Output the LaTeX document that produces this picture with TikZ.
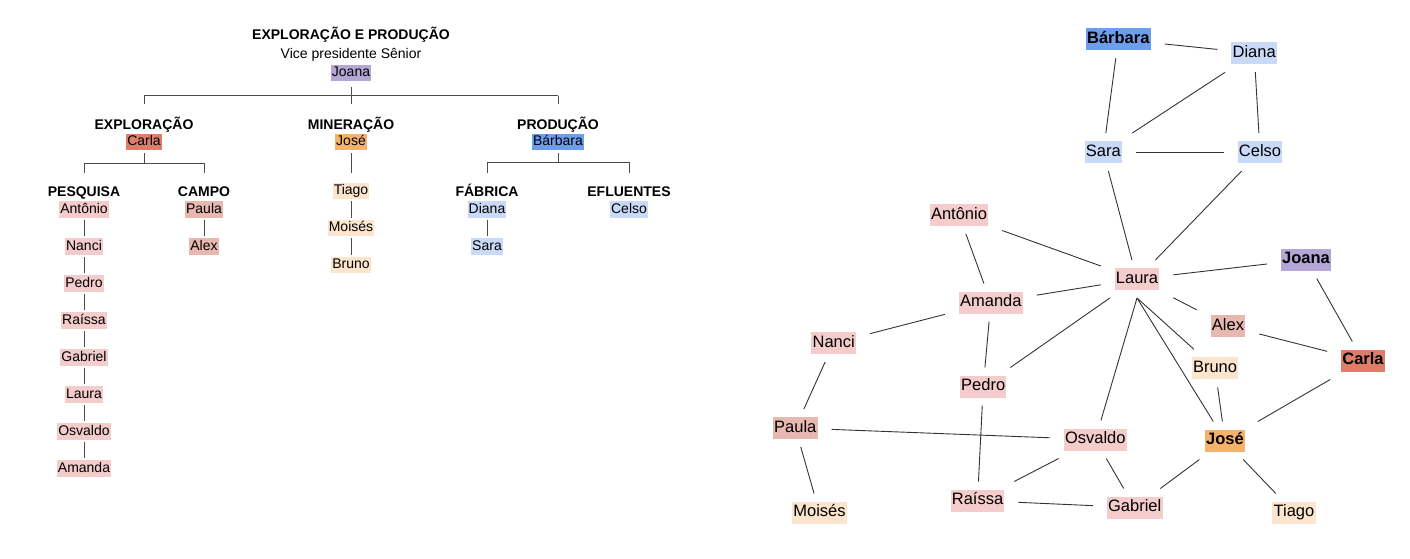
\documentclass[tikz,border=0pt]{standalone}
\usepackage{fontspec}
\setmainfont{Liberation Sans}
\definecolor{lilac}{HTML}{B4A7D6}
\definecolor{brick}{HTML}{DD7E6B}
\definecolor{apricot}{HTML}{F6B26B}
\definecolor{cornflower}{HTML}{6D9EEB}
\definecolor{skyish}{HTML}{C9DAF8}
\definecolor{blush}{HTML}{F4CCCC}
\definecolor{rosy}{HTML}{E6B8AF}
\definecolor{peach}{HTML}{FCE5CD}

\begin{document}
\begin{tikzpicture}[x=1pt, y=-1pt,
  person/.style={fill=#1, inner xsep=1pt, inner ysep=2pt, text height=10pt, text depth=2.5pt, outer sep=2pt, font=\fontsize{14pt}{16pt}\selectfont},
  person/.default=blush,
  dept/.style={inner xsep=0pt, inner ysep=2pt, text height=10pt, text depth=2.5pt, font=\fontsize{14pt}{16pt}\selectfont\bfseries},
  caption/.style={inner sep=0pt, font=\fontsize{14pt}{16pt}\selectfont},
  tree/.style={draw=black!70, line width=0.8pt},
  pal/.style={fill=#1, inner xsep=1.2pt, inner ysep=3.25pt, text height=12pt, text depth=3.5pt, outer xsep=14pt, outer ysep=8pt, font=\fontsize{16.5pt}{18pt}\selectfont},
  pal/.default=blush,
  boss/.style={pal=#1, font=\fontsize{16.5pt}{18pt}\selectfont\bfseries},
  link/.style={draw=black!80, line width=0.9pt}]
\useasboundingbox (0,0) rectangle (1410,558);

% organograma
\node[dept] (ep) at (351,36) {EXPLORAÇÃO E PRODUÇÃO};
\node[caption] (vp) at (351,55) {Vice presidente Sênior};
\node[person=lilac] (joana) at (351,73) {Joana};

\node[dept] (expl) at (144,125.5) {EXPLORAÇÃO};
\node[person=brick] (carla) at (144,142) {Carla};
\node[dept] (mine) at (351,125.5) {MINERAÇÃO};
\node[person=apricot] (jose) at (351,142) {José};
\node[dept] (prod) at (558,125.5) {PRODUÇÃO};
\node[person=cornflower] (barbara) at (558,142) {Bárbara};

\node[dept] (pesq) at (84,193) {PESQUISA};
\node[person] (antonio) at (84,209.5) {Antônio};
\node[person] (nanci) at (84,246.5) {Nanci};
\node[person] (pedro) at (84,283.5) {Pedro};
\node[person] (raissa) at (84,320.5) {Raíssa};
\node[person] (gabriel) at (84,357.5) {Gabriel};
\node[person] (laura) at (84,394.5) {Laura};
\node[person] (osvaldo) at (84,431.5) {Osvaldo};
\node[person] (amanda) at (84,468.5) {Amanda};

\node[dept] (campo) at (204,193) {CAMPO};
\node[person=rosy] (paula) at (204,209.5) {Paula};
\node[person=rosy] (alex) at (204,246.5) {Alex};

\node[person=peach] (tiago) at (351,191) {Tiago};
\node[person=peach] (moises) at (351,228) {Moisés};
\node[person=peach] (bruno) at (351,265) {Bruno};

\node[dept] (fabr) at (487,193) {FÁBRICA};
\node[person=skyish] (diana) at (487,209.5) {Diana};
\node[person=skyish] (sara) at (487,246.5) {Sara};
\node[dept] (eflu) at (629,193) {EFLUENTES};
\node[person=skyish] (celso) at (629,209.5) {Celso};

\coordinate (bus-l) at (144,95.7);
\coordinate (bus-r) at (558,95.7);
\coordinate (bus-pq) at (84,163);
\coordinate (bus-cp) at (204,163);
\coordinate (bus-fa) at (487,162);
\coordinate (bus-ef) at (629,162);

\draw[tree] (bus-l) -- (bus-r);
\draw[tree, shorten <=3.5pt, shorten >=13pt] (joana) -- (mine.north);
\draw[tree, shorten >=13pt] (bus-l) -- (expl.north);
\draw[tree, shorten >=13pt] (bus-r) -- (prod.north);

\draw[tree, shorten <=1pt] (carla) -- (carla |- bus-pq);
\draw[tree] (bus-pq) -- (bus-cp);
\draw[tree, shorten >=11.5pt] (bus-pq) -- (pesq.north);
\draw[tree, shorten >=11.5pt] (bus-cp) -- (campo.north);

\draw[tree, shorten <=1pt] (barbara) -- (barbara |- bus-fa);
\draw[tree] (bus-fa) -- (bus-ef);
\draw[tree, shorten >=11.5pt] (bus-fa) -- (fabr.north);
\draw[tree, shorten >=11.5pt] (bus-ef) -- (eflu.north);

\draw[tree, shorten <=1pt, shorten >=7.5pt] (jose) -- (tiago);
\draw[tree] (tiago) -- (moises) (moises) -- (bruno);
\draw[tree] (paula) -- (alex);
\draw[tree] (diana) -- (sara);
\draw[tree] (antonio) -- (nanci) (nanci) -- (pedro) (pedro) -- (raissa)
  (raissa) -- (gabriel) (gabriel) -- (laura) (laura) -- (osvaldo) (osvaldo) -- (amanda);

% rede
\node[boss=cornflower] (net-barbara) at (1118.3,39.2) {Bárbara};
\node[pal=skyish] (net-diana) at (1254.2,53.2) {Diana};
\node[pal=skyish] (net-sara) at (1103.3,152) {Sara};
\node[pal=skyish] (net-celso) at (1260,152) {Celso};
\node[pal] (net-antonio) at (959,215) {Antônio};
\node[pal] (net-laura) at (1137,279) {Laura};
\node[boss=lilac] (net-joana) at (1306,259.5) {Joana};
\node[pal] (net-amanda) at (990.8,302.5) {Amanda};
\node[pal=rosy] (net-alex) at (1228,326) {Alex};
\node[pal] (net-nanci) at (833.7,343) {Nanci};
\node[boss=brick] (net-carla) at (1363,360.5) {Carla};
\node[pal=peach] (net-bruno) at (1215,368.3) {Bruno};
\node[pal] (net-pedro) at (983.2,386.5) {Pedro};
\node[pal=rosy] (net-paula) at (795.3,428) {Paula};
\node[pal] (net-osvaldo) at (1095.3,439.5) {Osvaldo};
\node[boss=apricot] (net-jose) at (1225,440.5) {José};
\node[pal] (net-raissa) at (977.5,500.5) {Raíssa};
\node[pal] (net-gabriel) at (1134.7,507.5) {Gabriel};
\node[pal=peach] (net-moises) at (819.5,512.5) {Moisés};
\node[pal=peach] (net-tiago) at (1294,512.5) {Tiago};

\foreach \a/\b in {barbara/diana, barbara/sara, diana/sara, diana/celso, sara/celso,
    sara/laura, celso/laura, antonio/laura, antonio/amanda, joana/laura,
    laura/amanda, laura/pedro, laura/alex,
    alex/carla, joana/carla, carla/jose, bruno/jose, amanda/nanci, amanda/pedro,
    nanci/paula, paula/osvaldo, paula/moises, pedro/raissa, osvaldo/raissa,
    osvaldo/gabriel, raissa/gabriel, jose/gabriel, jose/tiago}
  \draw[link] (net-\a) -- (net-\b);
\foreach \b in {osvaldo, jose, bruno}
  \draw[link] (net-laura.south) -- (net-\b);

\end{tikzpicture}
\end{document}
